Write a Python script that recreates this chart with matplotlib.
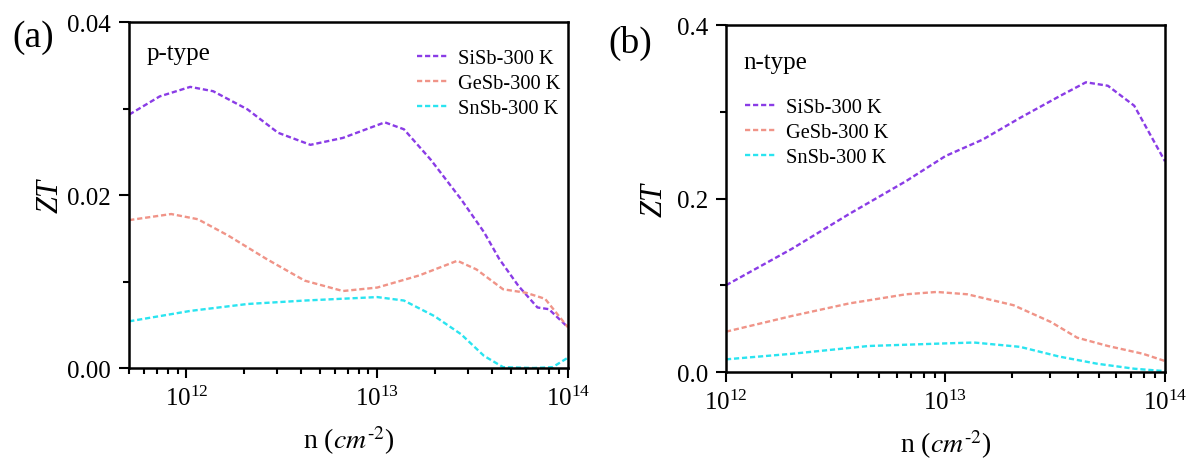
import numpy as np
import matplotlib
matplotlib.use('Agg')
from matplotlib import pyplot as plt
from matplotlib.ticker import MultipleLocator, FormatStrFormatter, LogLocator

plt.rcParams['font.family'] = ['Liberation Serif', 'DejaVu Serif']
plt.rcParams['mathtext.fontset'] = 'stix'

# ---- data (log10 of n, ZT) ----
p_logn_si = [11.70, 11.86, 12.02, 12.14, 12.32, 12.48, 12.65, 12.82, 13.04, 13.14,
             13.28, 13.44, 13.56, 13.64, 13.74, 13.84, 13.90, 14.00]
p_zt_si = [0.0293, 0.0314, 0.0325, 0.0320, 0.0299, 0.0272, 0.0258, 0.0266, 0.0284, 0.0276,
           0.0241, 0.0195, 0.0157, 0.0126, 0.0095, 0.0070, 0.0068, 0.0047]
p_logn_ge = [11.70, 11.92, 12.06, 12.22, 12.42, 12.62, 12.82, 13.00, 13.22, 13.42,
             13.52, 13.66, 13.78, 13.88, 14.00]
p_zt_ge = [0.0171, 0.0178, 0.0172, 0.0153, 0.0126, 0.0101, 0.0089, 0.0093, 0.0107, 0.0124,
           0.0114, 0.0091, 0.0087, 0.0080, 0.0047]
p_logn_sn = [11.70, 12.02, 12.32, 12.62, 13.00, 13.14, 13.30, 13.44, 13.56, 13.66,
             13.82, 13.92, 14.00]
p_zt_sn = [0.0054, 0.0066, 0.0074, 0.0078, 0.0082, 0.0078, 0.0060, 0.0039, 0.0014, 0.0001,
           0.0000, 0.0001, 0.0012]

n_logn_si = [12.00, 12.30, 12.56, 12.82, 13.00, 13.17, 13.34, 13.52, 13.64, 13.74, 13.86, 14.00]
n_zt_si = [0.100, 0.142, 0.182, 0.220, 0.249, 0.268, 0.293, 0.318, 0.334, 0.330, 0.307, 0.243]
n_logn_ge = [12.00, 12.30, 12.56, 12.82, 12.96, 13.10, 13.31, 13.48, 13.60, 13.74, 13.90, 14.00]
n_zt_ge = [0.0465, 0.0646, 0.079, 0.0896, 0.0923, 0.0896, 0.077, 0.0577, 0.0396, 0.030, 0.021, 0.0127]
n_logn_sn = [12.00, 12.30, 12.65, 13.00, 13.13, 13.34, 13.52, 13.69, 13.86, 14.00]
n_zt_sn = [0.0146, 0.021, 0.030, 0.033, 0.034, 0.029, 0.0177, 0.0096, 0.0038, 0.001]

labels = ['SiSb-300 K', 'GeSb-300 K', 'SnSb-300 K']
colors = ['#8A3CE6', '#F09488', '#2AE4F0']

fig = plt.figure(figsize=(11.99, 4.60), dpi=100)
ax1 = fig.add_axes([0.1076, 0.1978, 0.3661, 0.7522])
ax2 = fig.add_axes([0.6055, 0.1891, 0.3661, 0.7543])

p_sets = [(p_logn_si, p_zt_si), (p_logn_ge, p_zt_ge), (p_logn_sn, p_zt_sn)]
n_sets = [(n_logn_si, n_zt_si), (n_logn_ge, n_zt_ge), (n_logn_sn, n_zt_sn)]

for ax, sets in ((ax1, p_sets), (ax2, n_sets)):
    for (lx, y), lab, c in zip(sets, labels, colors):
        ax.plot(10 ** np.array(lx), y, color=c, lw=1.7, ls=(0, (2.2, 1.2)), label=lab)
    ax.set_xscale('log')
    ax.xaxis.set_minor_locator(LogLocator(base=10, subs=np.arange(2, 10)))
    ax.tick_params(which='both', direction='out', top=False, right=False,
                   labelsize=18, width=1.5, pad=6)
    ax.tick_params(which='major', length=7)
    ax.tick_params(which='minor', length=4.5)
    for sp in ax.spines.values():
        sp.set_linewidth(1.8)
    ax.set_xlabel(r'n ($\mathit{cm}^{\text{-}2}$)', fontsize=20, labelpad=9)
    ax.legend(loc='upper left', frameon=False, fontsize=14.7,
              handlelength=1.5, handletextpad=0.5, labelspacing=0.28,
              borderpad=0, borderaxespad=0)

ax1.set_ylabel('ZT', fontsize=22, fontstyle='italic', labelpad=2)
ax2.set_ylabel('ZT', fontsize=22, fontstyle='italic', labelpad=6)

ax1.set_xlim(5e11, 1e14)
ax1.set_ylim(0, 0.04)
ax1.yaxis.set_major_locator(MultipleLocator(0.02))
ax1.yaxis.set_minor_locator(MultipleLocator(0.01))
ax1.yaxis.set_major_formatter(FormatStrFormatter('%.2f'))
ax1.text(0.041, 0.91, 'p-type', transform=ax1.transAxes, fontsize=18, va='center')
ax1.get_legend().set_bbox_to_anchor((0.656, 0.923), transform=ax1.transAxes)

ax2.set_xlim(1e12, 1e14)
ax2.set_ylim(0, 0.4)
ax2.yaxis.set_major_locator(MultipleLocator(0.2))
ax2.yaxis.set_minor_locator(MultipleLocator(0.1))
ax2.yaxis.set_major_formatter(FormatStrFormatter('%.1f'))
ax2.text(0.039, 0.893, 'n-type', transform=ax2.transAxes, fontsize=18, va='center')
ax2.get_legend().set_bbox_to_anchor((0.043, 0.791), transform=ax2.transAxes)

fig.text(0.010, 0.917, '(a)', fontsize=27, va='center')
fig.text(0.507, 0.906, '(b)', fontsize=27, va='center')

fig.savefig('out.png', dpi=100)
